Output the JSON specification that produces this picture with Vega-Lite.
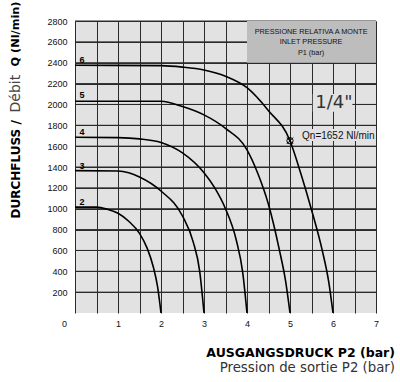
{
  "$schema": "https://vega.github.io/schema/vega-lite/v6.json",
  "width": 301,
  "height": 292,
  "autosize": {"type": "none"},
  "padding": {"left": 75, "top": 21, "right": 24, "bottom": 69},
  "background": "white",
  "config": {"view": {"fill": "#e2e2e2", "stroke": null}, "font": "Liberation Sans"},
  "title": {
    "text": "AUSGANGSDRUCK P2 (bar)",
    "subtitle": "Pression de sortie P2 (bar)",
    "orient": "bottom",
    "anchor": "end",
    "frame": "group",
    "dx": 19,
    "offset": 19,
    "font": "DejaVu Sans",
    "fontSize": 12.5,
    "fontWeight": "bold",
    "color": "#000",
    "subtitleFont": "DejaVu Sans",
    "subtitleFontSize": 13.3,
    "subtitleColor": "#333",
    "subtitlePadding": 1
  },
  "resolve": {"axis": {"y": "independent"}},
  "datasets": {
    "ygrid": [
      {"P2": 0, "P2end": 7, "Q": 200}, {"P2": 0, "P2end": 7, "Q": 400}, {"P2": 0, "P2end": 7, "Q": 600},
      {"P2": 0, "P2end": 7, "Q": 800}, {"P2": 0, "P2end": 7, "Q": 1000}, {"P2": 0, "P2end": 7, "Q": 1200},
      {"P2": 0, "P2end": 7, "Q": 1400}, {"P2": 0, "P2end": 7, "Q": 1600}, {"P2": 0, "P2end": 7, "Q": 1800},
      {"P2": 0, "P2end": 7, "Q": 2000}, {"P2": 0, "P2end": 7, "Q": 2200}, {"P2": 0, "P2end": 7, "Q": 2400},
      {"P2": 0, "P2end": 7, "Q": 2600}, {"P2": 0, "P2end": 7, "Q": 2800}
    ],
    "rects": [
      {"P2": 4, "P2end": 7, "Q": 2400, "Qend": 2800, "kind": "box"},
      {"P2": 5.53, "P2end": 6.45, "Q": 1930, "Qend": 2100, "kind": "mask"},
      {"P2": 5.24, "P2end": 7, "Q": 1650, "Qend": 1765, "kind": "mask"}
    ],
    "curves": [
      {"P1": 2, "P2": 0, "Q": 1015}, {"P1": 2, "P2": 0.5, "Q": 1015}, {"P1": 2, "P2": 0.75, "Q": 995},
      {"P1": 2, "P2": 1, "Q": 956}, {"P1": 2, "P2": 1.25, "Q": 880}, {"P1": 2, "P2": 1.5, "Q": 764},
      {"P1": 2, "P2": 1.68, "Q": 620}, {"P1": 2, "P2": 1.82, "Q": 444}, {"P1": 2, "P2": 1.92, "Q": 252},
      {"P1": 2, "P2": 2, "Q": 0},
      {"P1": 3, "P2": 0, "Q": 1365}, {"P1": 3, "P2": 1, "Q": 1362}, {"P1": 3, "P2": 1.25, "Q": 1345},
      {"P1": 3, "P2": 1.5, "Q": 1305}, {"P1": 3, "P2": 2, "Q": 1170}, {"P1": 3, "P2": 2.5, "Q": 930},
      {"P1": 3, "P2": 2.75, "Q": 680}, {"P1": 3, "P2": 2.9, "Q": 400}, {"P1": 3, "P2": 3, "Q": 0},
      {"P1": 4, "P2": 0, "Q": 1685}, {"P1": 4, "P2": 1, "Q": 1682}, {"P1": 4, "P2": 1.5, "Q": 1670},
      {"P1": 4, "P2": 2, "Q": 1635}, {"P1": 4, "P2": 2.5, "Q": 1535}, {"P1": 4, "P2": 3, "Q": 1345},
      {"P1": 4, "P2": 3.25, "Q": 1200}, {"P1": 4, "P2": 3.5, "Q": 1000}, {"P1": 4, "P2": 3.75, "Q": 700},
      {"P1": 4, "P2": 3.9, "Q": 390}, {"P1": 4, "P2": 4, "Q": 0},
      {"P1": 5, "P2": 0, "Q": 2030}, {"P1": 5, "P2": 2, "Q": 2030}, {"P1": 5, "P2": 2.5, "Q": 1980},
      {"P1": 5, "P2": 3, "Q": 1900}, {"P1": 5, "P2": 3.5, "Q": 1770}, {"P1": 5, "P2": 4, "Q": 1565},
      {"P1": 5, "P2": 4.25, "Q": 1340}, {"P1": 5, "P2": 4.5, "Q": 1040}, {"P1": 5, "P2": 4.75, "Q": 610},
      {"P1": 5, "P2": 4.9, "Q": 300}, {"P1": 5, "P2": 5, "Q": 0},
      {"P1": 6, "P2": 0, "Q": 2375}, {"P1": 6, "P2": 2, "Q": 2372}, {"P1": 6, "P2": 2.5, "Q": 2358},
      {"P1": 6, "P2": 3, "Q": 2330}, {"P1": 6, "P2": 3.5, "Q": 2270}, {"P1": 6, "P2": 4, "Q": 2160},
      {"P1": 6, "P2": 4.5, "Q": 1940}, {"P1": 6, "P2": 5, "Q": 1652}, {"P1": 6, "P2": 5.25, "Q": 1340},
      {"P1": 6, "P2": 5.5, "Q": 990}, {"P1": 6, "P2": 5.75, "Q": 600}, {"P1": 6, "P2": 5.9, "Q": 300},
      {"P1": 6, "P2": 6, "Q": 0}
    ],
    "labels": [
      {"P2": 0.16, "Q": 2425, "label": "6"},
      {"P2": 0.16, "Q": 2090, "label": "5"},
      {"P2": 0.16, "Q": 1738, "label": "4"},
      {"P2": 0.16, "Q": 1412, "label": "3"},
      {"P2": 0.16, "Q": 1064, "label": "2"}
    ],
    "boxtext": [
      {"P2": 5.49, "Q": 2697, "label": "PRESSIONE RELATIVA A MONTE"},
      {"P2": 5.49, "Q": 2596, "label": "INLET PRESSURE"},
      {"P2": 5.49, "Q": 2490, "label": "P1 (bar)"}
    ],
    "size": [{"P2": 6.02, "Q": 2014, "label": "1/4\""}],
    "qn": [{"P2": 5.28, "Q": 1702, "label": "Qn=1652 Nl/min"}],
    "star": [{"P2": 5, "Q": 1652}]
  },
  "encoding": {
    "x": {"field": "P2", "type": "quantitative", "scale": {"domain": [0, 7], "nice": false},
      "axis": {"values": [0, 0.5, 1, 1.5, 2, 2.5, 3, 3.5, 4, 4.5, 5, 5.5, 6, 6.5, 7],
        "labelExpr": "datum.value % 1 == 0 ? format(datum.value, 'd') : ''",
        "grid": true, "gridColor": "#2b2b2b", "gridWidth": 1, "ticks": false, "domain": false,
        "labelFont": "Liberation Sans", "labelFontSize": 9, "labelColor": "#111", "labelPadding": 6,
        "labelOffset": {"condition": {"test": "datum.value == 0", "value": -11}, "value": 0},
        "labelFlush": false, "labelOverlap": false, "title": null}}
  },
  "layer": [
    {
      "data": {"name": "ygrid"},
      "mark": {"type": "rule", "color": "#2b2b2b", "strokeWidth": 1},
      "encoding": {
        "x2": {"field": "P2end"},
        "y": {"field": "Q", "type": "quantitative", "scale": {"domain": [0, 2800], "nice": false}, "axis": null}
      }
    },
    {
      "data": {"name": "curves"},
      "mark": {"type": "line", "interpolate": "monotone", "color": "#000", "strokeWidth": 1.6},
      "encoding": {
        "y": {"field": "Q", "type": "quantitative", "scale": {"domain": [0, 2800], "nice": false},
          "axis": {"orient": "left", "values": [200, 400, 600, 800, 1000, 1200, 1400, 1600, 1800, 2000, 2200, 2400, 2600, 2800],
            "format": "d", "grid": true, "gridColor": "#2b2b2b", "gridWidth": 1, "ticks": false, "domain": false,
            "labelFont": "Liberation Sans", "labelFontSize": 9, "labelColor": "#111", "labelPadding": 8, "labelOverlap": false,
            "title": "DURCHFLUSS /", "titleFont": "DejaVu Sans", "titleFontSize": 12, "titleFontWeight": "bold",
            "titleColor": "#000", "titleAngle": 270, "titleAlign": "left", "titleBaseline": "middle",
            "titleX": -60, "titleY": 197}},
        "detail": {"field": "P1", "type": "nominal"}
      }
    },
    {
      "data": {"name": "rects"},
      "mark": {"type": "rect"},
      "encoding": {
        "x2": {"field": "P2end"},
        "y": {"field": "Q", "type": "quantitative", "scale": {"domain": [0, 2800], "nice": false},
          "axis": {"orient": "left", "labels": false, "ticks": false, "domain": false, "grid": false,
            "title": "Débit", "titleFont": "DejaVu Sans", "titleFontSize": 14, "titleFontWeight": "normal",
            "titleColor": "#444", "titleAngle": 270, "titleAlign": "left", "titleBaseline": "middle",
            "titleX": -60, "titleY": 91}},
        "y2": {"field": "Qend"},
        "color": {"field": "kind", "type": "nominal", "scale": {"domain": ["box", "mask"], "range": ["#bdbdbd", "#e2e2e2"]}, "legend": null}
      }
    },
    {
      "data": {"name": "labels"},
      "mark": {"type": "text", "font": "Liberation Sans", "fontSize": 9, "fontWeight": "bold", "color": "#000", "baseline": "middle"},
      "encoding": {
        "y": {"field": "Q", "type": "quantitative", "scale": {"domain": [0, 2800], "nice": false},
          "axis": {"orient": "left", "labels": false, "ticks": false, "domain": false, "grid": false,
            "title": "Q (Nl/min)", "titleFont": "DejaVu Sans", "titleFontSize": 11.3, "titleFontWeight": "bold",
            "titleColor": "#000", "titleAngle": 270, "titleAlign": "left", "titleBaseline": "middle",
            "titleX": -60, "titleY": 45}},
        "text": {"field": "label"}
      }
    },
    {
      "data": {"name": "boxtext"},
      "mark": {"type": "text", "font": "Liberation Sans", "fontSize": 7.3, "color": "#111", "baseline": "middle"},
      "encoding": {
        "y": {"field": "Q", "type": "quantitative", "scale": {"domain": [0, 2800], "nice": false}, "axis": null},
        "text": {"field": "label"}
      }
    },
    {
      "data": {"name": "size"},
      "mark": {"type": "text", "font": "DejaVu Sans", "fontSize": 18, "color": "#333", "baseline": "middle"},
      "encoding": {
        "y": {"field": "Q", "type": "quantitative", "scale": {"domain": [0, 2800], "nice": false}, "axis": null},
        "text": {"field": "label"}
      }
    },
    {
      "data": {"name": "qn"},
      "mark": {"type": "text", "font": "Liberation Sans", "fontSize": 10, "color": "#111", "baseline": "middle", "align": "left"},
      "encoding": {
        "y": {"field": "Q", "type": "quantitative", "scale": {"domain": [0, 2800], "nice": false}, "axis": null},
        "text": {"field": "label"}
      }
    },
    {
      "data": {"name": "star"},
      "mark": {"type": "point", "shape": "circle", "filled": false, "color": "#000", "size": 40, "strokeWidth": 1, "opacity": 1},
      "encoding": {
        "y": {"field": "Q", "type": "quantitative", "scale": {"domain": [0, 2800], "nice": false}, "axis": null}
      }
    },
    {
      "data": {"name": "star"},
      "mark": {"type": "point", "shape": "M-1,-1L1,1M1,-1L-1,1", "filled": false, "color": "#000", "size": 40, "strokeWidth": 1, "opacity": 1},
      "encoding": {
        "y": {"field": "Q", "type": "quantitative", "scale": {"domain": [0, 2800], "nice": false}, "axis": null}
      }
    }
  ]
}
